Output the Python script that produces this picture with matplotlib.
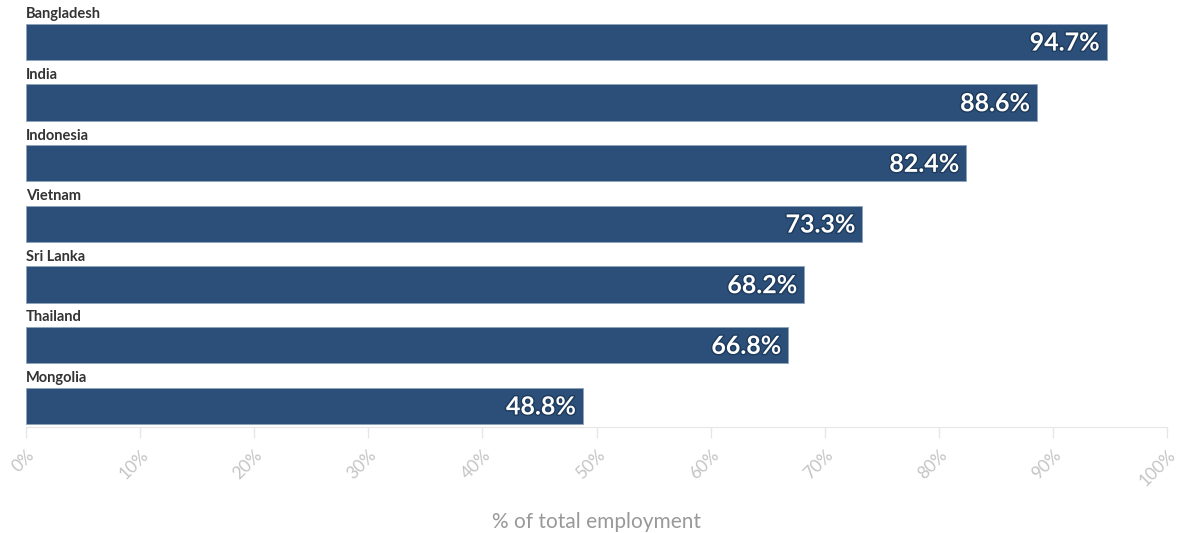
import matplotlib.pyplot as plt
import matplotlib.patheffects as pe

plt.rcParams['font.family'] = ['Lato', 'DejaVu Sans']

countries = ['Bangladesh', 'India', 'Indonesia', 'Vietnam', 'Sri Lanka', 'Thailand', 'Mongolia']
values = [94.7, 88.6, 82.4, 73.3, 68.2, 66.8, 48.8]
ticks = list(range(0, 101, 10))
tick_labels = [f'{t}%' for t in ticks]

bar_color = '#2b4f78'

fig = plt.figure(figsize=(11.8, 5.33), dpi=100)
ax = fig.add_axes([26 / 1180, 1 - 427 / 533, (1167 - 26) / 1180, 427 / 533])

pos = list(range(len(countries)))
ax.barh(pos, values, height=0.6, color=bar_color, edgecolor='#8fa3ba', linewidth=0.6)

for i, (c, v) in enumerate(zip(countries, values)):
    ax.text(0, i - 0.34, c, ha='left', va='bottom', fontsize=10.5, fontweight='bold', color='#333333')
    ax.text(v - 0.6, i + 0.02, f'{v}%', ha='right', va='center', fontsize=18, fontweight='bold',
            color='white', path_effects=[pe.withStroke(linewidth=2, foreground='#1d3a5c')])

ax.set_xlim(0, 100)
ax.set_ylim(6.35, -0.69)
ax.set_yticks([])
ax.set_xticks(ticks)
ax.set_xticklabels(tick_labels, rotation=45, ha='right', rotation_mode='anchor', fontsize=12.5, color='#c4c4c4')
ax.tick_params(axis='x', length=8, width=1, color='#e6e6e6', pad=6)
for s in ['top', 'right', 'left']:
    ax.spines[s].set_visible(False)
ax.spines['bottom'].set_color('#e6e6e6')
fig.text(596 / 1180, 1 - 522 / 533, '% of total employment', ha='center', va='center',
         fontsize=15, color='#999999')

fig.savefig('out.png', dpi=100)
